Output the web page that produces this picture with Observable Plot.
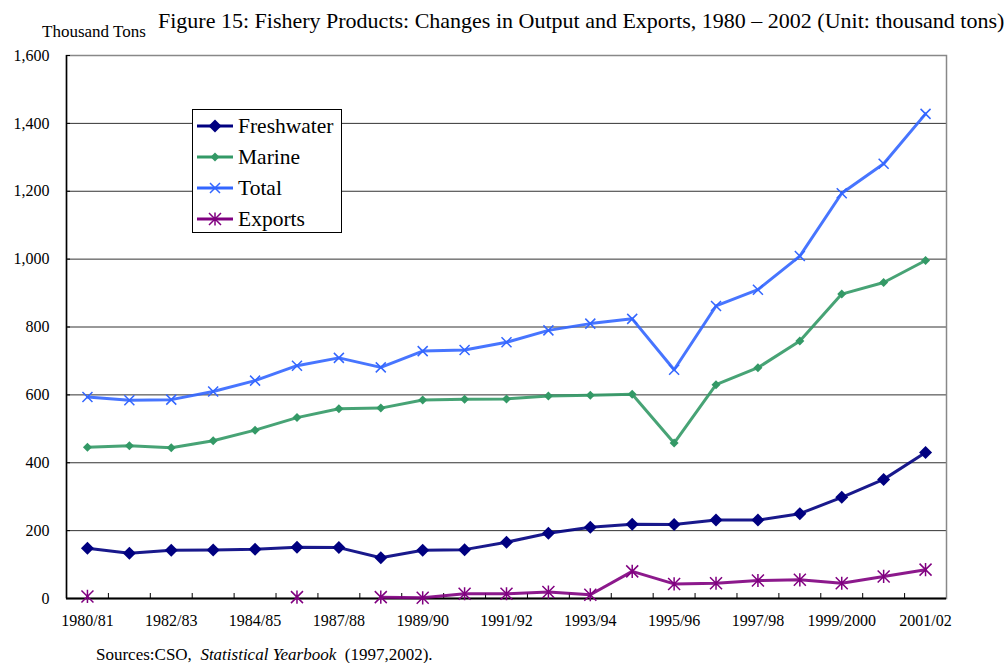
<!DOCTYPE html>
<html>
<head>
<meta charset="utf-8">
<script src="https://cdn.jsdelivr.net/npm/d3@7"></script>
<script src="https://cdn.jsdelivr.net/npm/@observablehq/plot@0.6"></script>
<style>
  body { margin: 0; background: #fff; font-family: "Liberation Serif", "Times New Roman", serif; }
  #wrap { position: relative; width: 1004px; height: 663px; overflow: hidden; }
  #chart { position: absolute; left: 0; top: 0; }
  .title { position: absolute; left: 158px; top: 8px; font-size: 22px; line-height: 25px; white-space: nowrap; color: #000; }
  .unit { position: absolute; left: 42px; top: 22px; font-size: 17px; line-height: 20px; white-space: nowrap; color: #000; }
  .source { position: absolute; left: 96px; top: 645px; font-size: 17px; line-height: 20px; white-space: nowrap; color: #000; }
  #legend { position: absolute; left: 192px; top: 109px; width: 148px; height: 122px; border: 1px solid #000; background: #fff; }
  .row { position: absolute; left: 4px; height: 26px; display: flex; align-items: center; font-size: 21.5px; white-space: nowrap; }
  .row svg { margin-right: 5px; }
</style>
</head>
<body>
<div id="wrap">
  <div id="chart"></div>
  <div class="unit">Thousand Tons</div>
  <div class="title">Figure 15: Fishery Products: Changes in Output and Exports, 1980 – 2002 (Unit: thousand tons)</div>
  <div id="legend"></div>
  <div class="source">Sources:CSO,&nbsp; <i>Statistical Yearbook</i>&nbsp; (1997,2002).</div>
</div>
<script>
const categories = ["1980/81","1981/82","1982/83","1983/84","1984/85","1985/86","1987/88","1988/89","1989/90","1990/91","1991/92","1992/93","1993/94","1994/95","1995/96","1996/97","1997/98","1998/99","1999/2000","2000/01","2001/02"];
const freshwater = [148,133,142,143,145,151,150,120,142,144,166,192,210,219,218,231,231,250,298,351,430];
const marine = [446,450,444,465,496,533,559,561,585,587,588,597,599,602,458,630,680,759,897,931,996];
const total = [594,584,586,610,642,686,709,681,729,732,755,790,810,824,674,862,910,1009,1194,1281,1428];
const exportsData = [6,null,null,null,null,4,null,4,2,14,14,19,11,80,43,45,53,55,45,65,85];
const seriesNames = ["Freshwater","Marine","Total","Exports"];
const yTicks = [0,200,400,600,800,1000,1200,1400,1600];

const colors = {Freshwater: "#000080", Marine: "#339966", Total: "#3366FF", Exports: "#800080"};

// custom marker shapes (Excel-like)
const rad = size => Math.sqrt(size / Math.PI);
const diamondSym = {draw(c, s) { const r = rad(s); c.moveTo(0, -r); c.lineTo(r, 0); c.lineTo(0, r); c.lineTo(-r, 0); c.closePath(); }};
const timesSym = {draw(c, s) { const r = rad(s); c.moveTo(-r, -r); c.lineTo(r, r); c.moveTo(-r, r); c.lineTo(r, -r); }};
const starSym = {draw(c, s) { const r = rad(s); c.moveTo(-r, -r); c.lineTo(r, r); c.moveTo(-r, r); c.lineTo(r, -r); c.moveTo(0, -r * 1.1); c.lineTo(0, r * 1.1); }};

const markers = {
  Freshwater: {symbol: diamondSym, r: 6.5, fill: colors.Freshwater, stroke: null},
  Marine: {symbol: diamondSym, r: 4.5, fill: colors.Marine, stroke: null},
  Total: {symbol: timesSym, r: 5, fill: "none", stroke: colors.Total, strokeWidth: 1.5},
  Exports: {symbol: starSym, r: 6, fill: "none", stroke: colors.Exports, strokeWidth: 1.5}
};

const valuesBy = {Freshwater: freshwater, Marine: marine, Total: total, Exports: exportsData};
const rows = [];
for (const name of seriesNames) {
  valuesBy[name].forEach((v, i) => rows.push({series: name, i, value: v}));
}
const idx = categories.map((_, i) => i);
const bounds = idx.slice(0, -1).map(i => i + 0.5);
const labelTicks = idx.filter(i => i % 2 === 0);

const marks = [
  Plot.ruleY(yTicks.slice(1, -1), {stroke: "#333", strokeWidth: 1}),
  Plot.frame({stroke: "#888", strokeWidth: 1.5}),
  Plot.ruleY([0], {stroke: "#000", strokeWidth: 2}),
  Plot.ruleX([-0.5], {stroke: "#000", strokeWidth: 1.5}),
  Plot.axisY({ticks: yTicks, tickFormat: d3.format(","), tickSize: 0, tickPadding: 17, fontSize: 16, label: null}),
  Plot.axisY({ticks: yTicks, tickSize: -4, text: null, stroke: "#000", label: null}),
  Plot.axisX({ticks: bounds, tickSize: -5, text: null, stroke: "#000", label: null}),
  Plot.axisX({ticks: labelTicks, tickFormat: i => categories[i], tickSize: 0, tickPadding: 16, fontSize: 16, label: null})
];
for (const name of seriesNames) {
  const d = rows.filter(r => r.series === name);
  marks.push(Plot.line(d, {x: "i", y: "value", stroke: colors[name], strokeWidth: 3, strokeOpacity: 0.9}));
}
for (const name of seriesNames) {
  const d = rows.filter(r => r.series === name && r.value != null);
  const m = markers[name];
  marks.push(Plot.dot(d, {x: "i", y: "value", symbol: () => m.symbol, r: m.r, fill: m.fill, stroke: m.stroke, strokeWidth: m.strokeWidth || 1}));
}

const chart = Plot.plot({
  width: 1004,
  height: 640,
  marginTop: 55,
  marginBottom: 42,
  marginLeft: 66,
  marginRight: 58,
  style: {fontFamily: '"Liberation Serif", "Times New Roman", serif', color: "#000", background: "#fff"},
  x: {type: "linear", domain: [-0.5, categories.length - 0.5], label: null},
  y: {domain: [0, 1600], label: null},
  symbol: {type: "identity"},
  marks
});
document.getElementById("chart").appendChild(chart);

// legend
const legend = document.getElementById("legend");
seriesNames.forEach((name, k) => {
  const row = document.createElement("div");
  row.className = "row";
  row.style.top = (3 + k * 31) + "px";
  const svg = d3.create("svg").attr("width", 36).attr("height", 20);
  svg.append("line").attr("x1", 0).attr("x2", 36).attr("y1", 10).attr("y2", 10)
    .attr("stroke", colors[name]).attr("stroke-width", 3);
  const m = markers[name];
  const path = d3.path();
  m.symbol.draw(path, m.r * m.r * Math.PI);
  svg.append("path").attr("transform", "translate(18,10)").attr("d", path.toString())
    .attr("fill", m.fill).attr("stroke", m.stroke).attr("stroke-width", m.strokeWidth || 1);
  row.appendChild(svg.node());
  const t = document.createElement("span");
  t.textContent = name;
  row.appendChild(t);
  legend.appendChild(row);
});
</script>
</body>
</html>
